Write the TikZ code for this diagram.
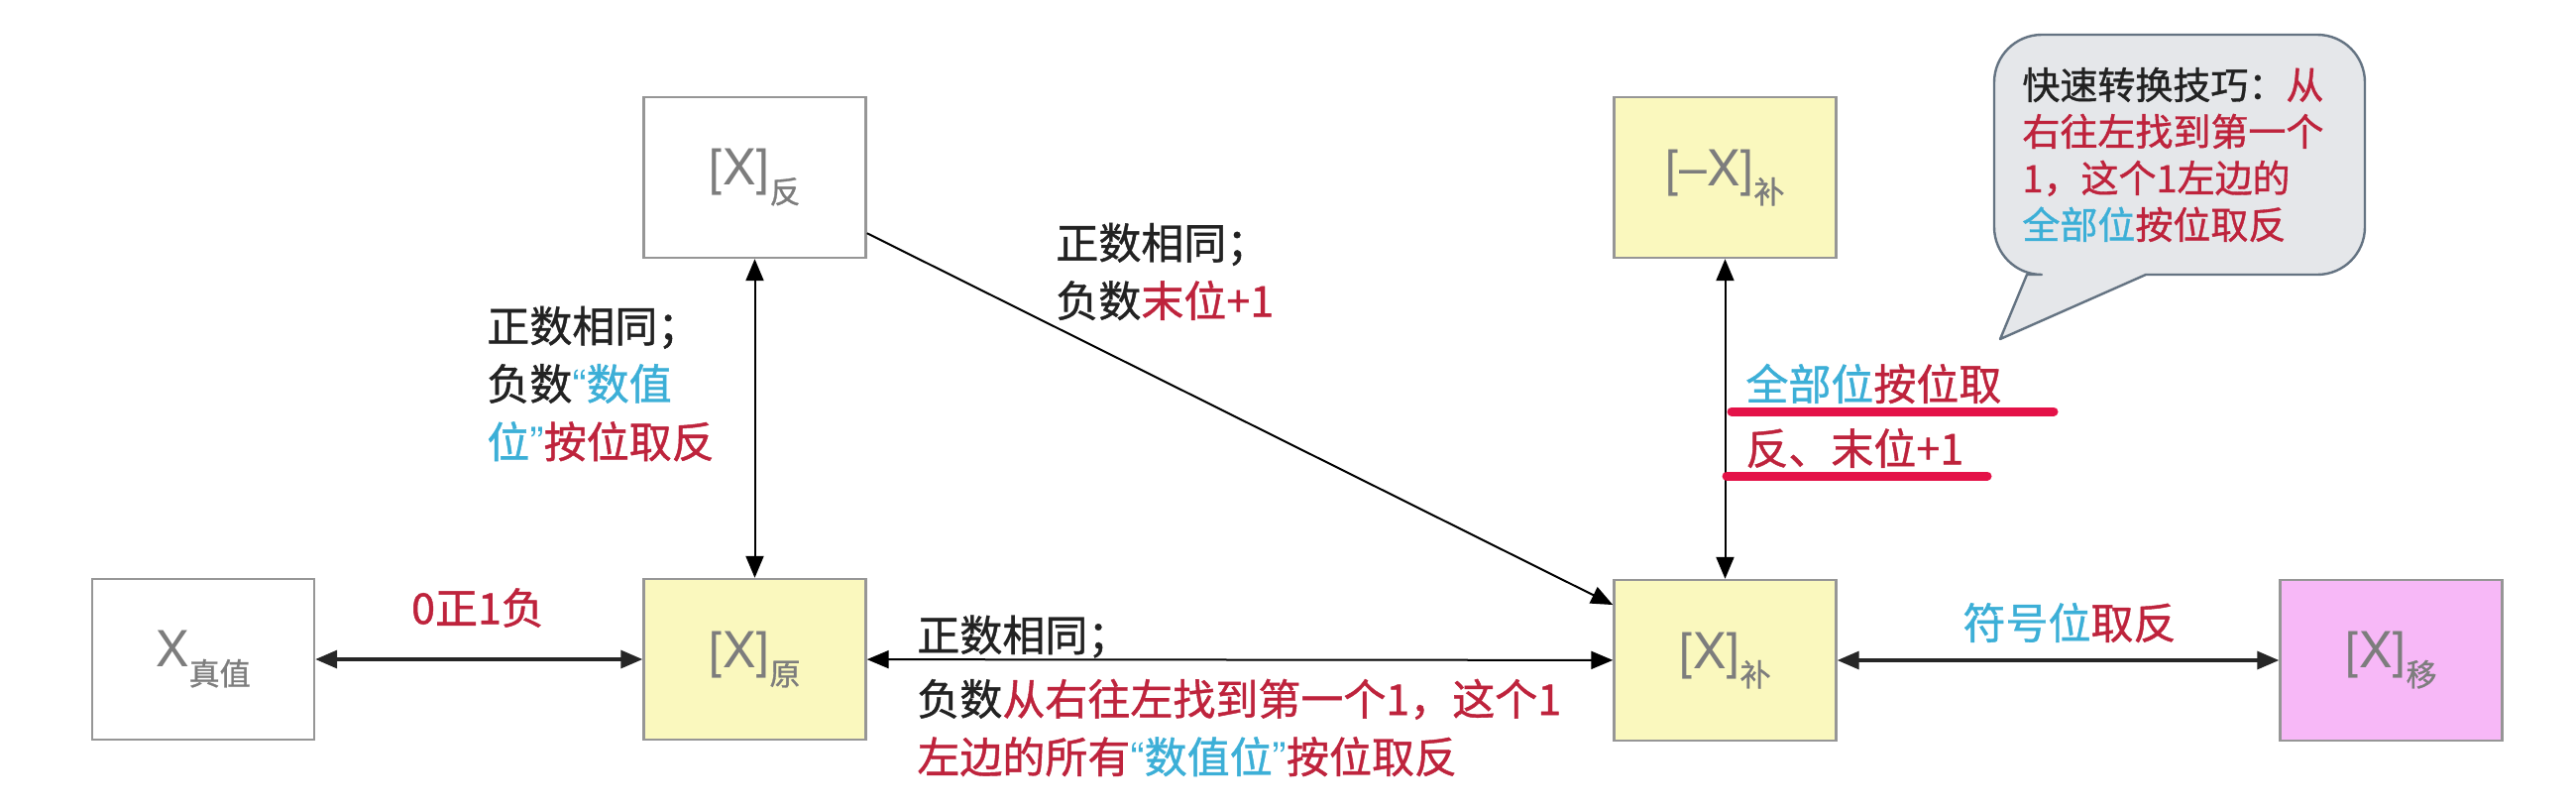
\documentclass[tikz,border=0pt]{standalone}
\usepackage{fontspec}
\setmainfont{Noto Sans CJK SC}[FakeBold=1]
\newfontfamily\latinf{TeX Gyre Heros}
\usetikzlibrary{arrows.meta}
\definecolor{cred}{RGB}{190,35,60}
\definecolor{cblue}{RGB}{60,175,215}
\definecolor{ctext}{RGB}{34,34,34}
\definecolor{cul}{RGB}{228,18,72}
\definecolor{boxy}{RGB}{250,248,190}
\definecolor{boxp}{RGB}{247,184,247}
\definecolor{boxline}{RGB}{150,150,150}
\definecolor{lblgray}{RGB}{125,125,125}
\definecolor{bubfill}{RGB}{229,231,234}
\definecolor{bubline}{RGB}{100,115,130}
\newcommand{\boxlbl}[2]{{\latinf\fontsize{25}{25}\selectfont #1}\raisebox{-9pt}{\fontsize{15.5}{15.5}\selectfont #2}}
\newcommand{\myopq}{{\latinf “}}
\newcommand{\myclq}{{\latinf ”}}
\tikzset{
 nodebox/.style={draw=boxline, line width=1.2pt, minimum width=112pt, minimum height=81pt, inner sep=0pt, text=lblgray},
 lbl/.style={font=\fontsize{21.5}{29.2}\selectfont, text=ctext, inner sep=0pt, align=left},
 bubtxt/.style={font=\fontsize{19}{23.5}\selectfont, text=ctext, inner sep=0pt, align=left},
 conthin/.style={line width=1pt, draw=black},
 conthick/.style={line width=1.6pt, draw=black!85},
 bigT/.tip={Triangle[length=11pt,width=9pt]},
 ulred/.style={draw=cul, line width=4.5pt, line cap=round},
 bubble/.style={fill=bubfill, draw=bubline, line width=1.2pt, line join=round},
}
\begin{document}
\begin{tikzpicture}[x=0.5pt,y=-0.5pt]
\fill[white] (0,0) rectangle (2599,816);
\useasboundingbox (0,0) rectangle (2599,816);

% boxes
\node[nodebox, fill=white] (xz)    at (205,665)    {\boxlbl{X}{真值}};
\node[nodebox, fill=boxy]  (yuan)  at (761.5,665)  {\boxlbl{[X]}{原}};
\node[nodebox, fill=white] (fan)   at (761.5,179)  {\boxlbl{[X]}{反}};
\node[nodebox, fill=boxy]  (negbu) at (1740.5,179) {\boxlbl{[\textendash X]}{补}};
\node[nodebox, fill=boxy]  (bu)    at (1740.5,666) {\boxlbl{[X]}{补}};
\node[nodebox, fill=boxp]  (yi)    at (2412.5,666) {\boxlbl{[X]}{移}};

% connectors
\draw[conthick, bigT-bigT] (xz) -- (yuan);
\draw[conthin, bigT-bigT] (fan) -- (yuan);
\draw[conthin, -bigT] (fan) -- (bu);
\draw[conthin, bigT-bigT] (yuan) -- (bu);
\draw[conthin, bigT-bigT] (negbu) -- (bu);
\draw[conthick, bigT-bigT] (bu) -- (yi);

% labels
\node[lbl, anchor=west] (lfan) at (491,387) {正数相同；\\负数\textcolor{cblue}{\myopq 数值}\\\textcolor{cblue}{位\myclq}\textcolor{cred}{按位取反}};
\node[lbl, text=cred] (l01) at (482,613) {0正1负};
\node[lbl, anchor=west] (ldiag) at (1065,274) {正数相同；\\负数\textcolor{cred}{末位+1}};
\node[lbl, anchor=west] (lb1) at (925,642) {正数相同；};
\node[lbl, anchor=west] (lb2) at (925,734) {负数\textcolor{cred}{从右往左找到第一个1，这个1}\\\textcolor{cred}{左边的所有}\textcolor{cblue}{\myopq 数值位\myclq}\textcolor{cred}{按位取反}};
\node[lbl, anchor=west] (lneg1) at (1761,387) {\textcolor{cblue}{全部位}\textcolor{cred}{按位取}};
\node[lbl, anchor=west, text=cred] (lneg2) at (1761,452) {反、末位+1};
\draw[ulred] (1747,415) -- (2072,415);
\draw[ulred] (1742,480) -- (2005,480);
\node[lbl] (lsign) at (2088,628) {\textcolor{cblue}{符号位}\textcolor{cred}{取反}};

% speech bubble
\draw[bubble] (2060,35) -- (2338,35) arc[start angle=270, end angle=360, radius=48]
  -- (2386,229) arc[start angle=0, end angle=90, radius=48]
  -- (2165,277) -- (2018,342) -- (2045,277)
  -- (2060,277) arc[start angle=90, end angle=180, radius=48]
  -- (2012,83) arc[start angle=180, end angle=270, radius=48] -- cycle;
\node[bubtxt, anchor=west] (tip) at (2040,156) {快速转换技巧：\textcolor{cred}{从}\\\textcolor{cred}{右往左找到第一个}\\\textcolor{cred}{1，这个1左边的}\\\textcolor{cblue}{全部位}\textcolor{cred}{按位取反}};
\end{tikzpicture}
\end{document}
